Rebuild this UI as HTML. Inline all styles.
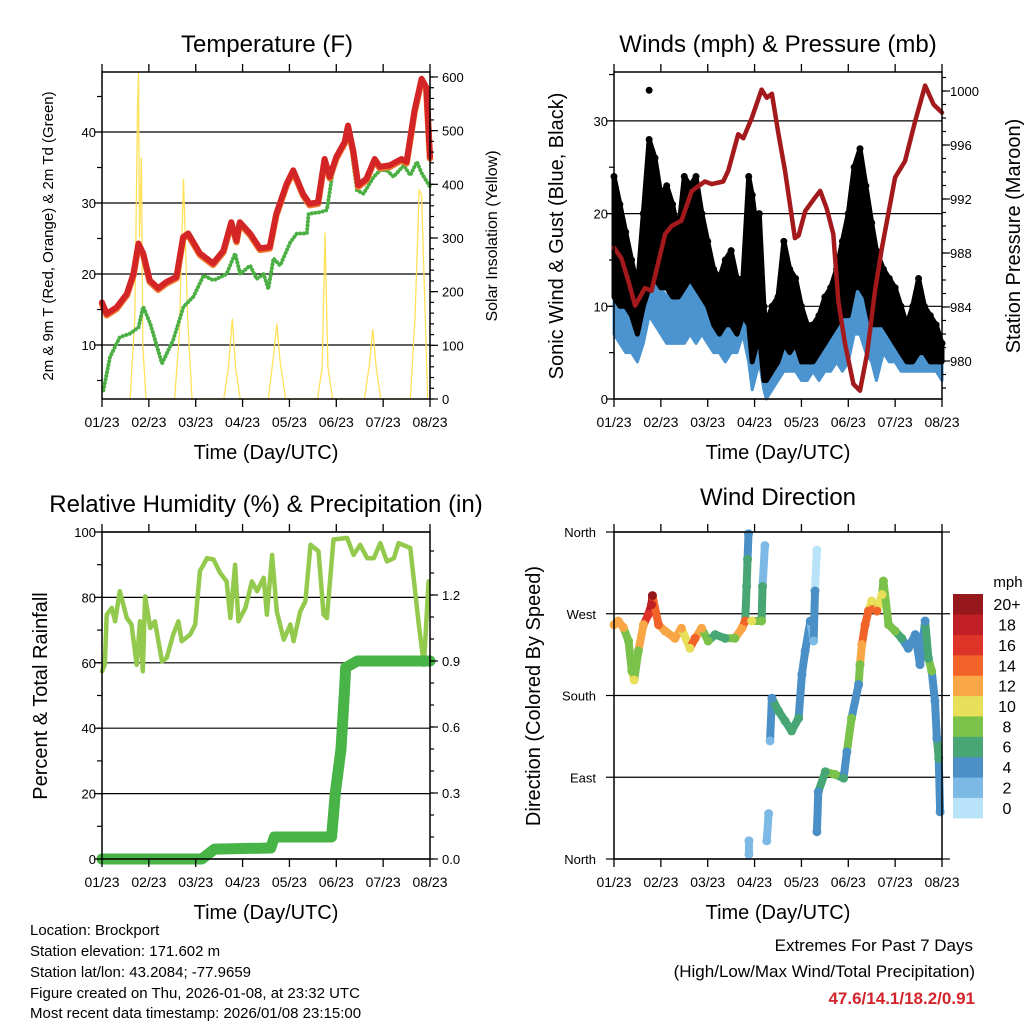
<!DOCTYPE html>
<html><head><meta charset="utf-8"><title>Brockport station meteogram</title>
<style>
html,body{margin:0;padding:0;background:#fff;}
svg{display:block;font-family:"Liberation Sans",Arial,sans-serif;}
</style></head>
<body>
<svg id="fig" xmlns="http://www.w3.org/2000/svg" width="1024" height="1024" viewBox="0 0 1024 1024">
<rect x="0" y="0" width="1024" height="1024" fill="#fff"/>
<g id="layer"></g>
<g font-size="15" fill="#000">
<text x="30" y="935">Location: Brockport</text>
<text x="30" y="956">Station elevation: 171.602 m</text>
<text x="30" y="977">Station lat/lon: 43.2084; -77.9659</text>
<text x="30" y="998">Figure created on Thu, 2026-01-08, at 23:32 UTC</text>
<text x="30" y="1018">Most recent data timestamp: 2026/01/08 23:15:00</text>
</g>
<g text-anchor="end">
<text x="973" y="951" font-size="17">Extremes For Past 7 Days</text>
<text x="975" y="977" font-size="17">(High/Low/Max Wind/Total Precipitation)</text>
<text x="975" y="1004" font-size="17" font-weight="bold" fill="#d3242b">47.6/14.1/18.2/0.91</text>
</g>
</svg>
<script>
// ---------- data ----------
const dayLabels = ["01/23","02/23","03/23","04/23","05/23","06/23","07/23","08/23"];
const tempT = [0,0.1,0.31,0.53,0.67,0.78,0.88,1.02,1.2,1.38,1.59,1.73,1.84,2.09,2.37,2.59,2.76,2.87,2.94,3.16,3.37,3.58,3.72,3.94,4.08,4.29,4.43,4.61,4.75,4.86,5.0,5.18,5.25,5.36,5.47,5.64,5.82,5.93,6.14,6.39,6.5,6.67,6.82,6.92,7.0];
const tempV = [16.0,14.4,15.3,17.2,20,24.3,22.9,19.1,18,18.9,19.6,25.2,25.7,22.9,21.5,23.3,27.3,24.7,27.3,25.7,23.6,23.8,28.5,32.7,34.6,31.3,29.9,30.1,36.2,33.7,36.5,38.6,40.9,37.4,32.5,33.4,36.2,35.1,35.3,36.2,35.8,43,47.5,46.3,36.5];
const dewT = [0.03,0.17,0.38,0.6,0.78,0.88,1.03,1.28,1.52,1.74,1.95,2.17,2.38,2.66,2.84,2.95,3.16,3.3,3.45,3.55,3.66,3.8,4.02,4.16,4.37,4.41,4.66,4.8,4.94,5.12,5.26,5.44,5.58,5.8,5.94,6.08,6.22,6.44,6.58,6.72,6.83,7.0];
const dewV = [3.6,8.3,11.1,11.6,12.5,15.4,13,7.4,10.7,15.4,16.8,19.8,19.1,20,22.9,20,21.2,19.3,20,17.9,22.2,21.2,24.5,25.7,25.7,28.5,28.7,29,35.1,37.4,40.5,31.8,31.3,33.7,34.6,34.6,33.7,35.3,33.9,35.8,34.1,32.3];
const solarT = [0.6,0.7,0.76,0.78,0.8,0.84,0.87,0.94,1.55,1.65,1.74,1.83,1.92,2.6,2.7,2.78,2.85,2.95,3.55,3.66,3.73,3.8,3.92,4.6,4.7,4.76,4.82,4.92,5.6,5.7,5.78,5.85,5.95,6.58,6.68,6.77,6.82,6.9,6.95];
const solarV = [0,150,550,610,300,450,100,0,0,120,410,150,0,0,60,150,60,0,0,80,140,70,0,0,60,310,60,0,0,60,130,60,0,0,150,390,380,150,0];
const tempTicks = [10,20,30,40];
const solarTicks = [0,100,200,300,400,500,600];

const windT = [0,0.125,0.25,0.375,0.5,0.625,0.75,0.875,1.0,1.125,1.25,1.375,1.5,1.625,1.75,1.875,2.0,2.125,2.25,2.375,2.5,2.625,2.75,2.875,2.95,3.0,3.1,3.2,3.25,3.375,3.5,3.625,3.75,3.875,4.0,4.125,4.25,4.375,4.5,4.625,4.75,4.875,5.0,5.125,5.25,5.375,5.5,5.6,5.75,5.875,6.0,6.125,6.25,6.375,6.5,6.625,6.75,6.875,7.0];
const sustLo = [7,6,5,5,4,6,9,8,7,6,6,6,6,7,6,7,6,5,5,4,5,5,7,4,1,2,4,1,0,1,2,3,3,3,2,2,3,2,3,3,4,3,4,7,7,5,4,2,5,4,4,3,3,3,3,3,3,3,2];
const sustHi = [14,12,11,9,8,12,18,15,12,11,13,11,13,14,12,10,11,9,10,8,9,8,11,14,10,11,14,6,4,5,6,8,8,7,6,5,6,5,7,8,9,8,10,15,16,14,12,9,10,9,8,7,6,7,8,7,7,6,5];
const gustLo = [11,10,10,9,7,10,12,13,12,12,11,11,12,13,12,11,10,8,7,8,8,7,9,8,4,5,7,2,2,3,4,6,5,6,4,4,4,5,6,7,8,9,9,12,12,11,8,8,8,7,6,5,4,4,5,5,4,4,4];
const gustHi = [24,21,18,15,12,20,28,26,22,23,21,18,24,23,24,20,17,14,13,15,16,13,13,24,22,20,20,10,8,10,11,17,14,13,10,8,8,9,11,12,14,17,20,25,27,23,19,16,14,13,12,10,8,10,13,10,9,8,6];
const gustOutT = [0.75];
const gustOutV = [33.3];
const presT = [0,0.16,0.31,0.45,0.66,0.8,1.09,1.23,1.44,1.66,1.94,2.09,2.33,2.44,2.65,2.76,2.94,3.15,3.26,3.37,3.51,3.65,3.86,3.94,4.08,4.29,4.4,4.54,4.68,4.79,4.93,5.11,5.25,5.4,5.57,5.72,6.0,6.21,6.43,6.64,6.82,7.0];
const presV = [988.4,987.6,985.9,984.1,985.4,985.2,989.4,990,990.4,992.6,993.3,993.1,993.3,994.1,996.8,996.5,998,1000.1,999.5,999.8,996.8,994.1,989.1,989.3,991.1,992.1,992.6,991.3,989.4,984.4,981.3,978.3,977.8,980.5,985.2,988.4,993.6,994.8,997.8,1000.4,999,998.4];
const windTicks = [0,10,20,30];
const presTicks = [980,984,988,992,996,1000];

const rhT = [0,0.06,0.1,0.21,0.28,0.38,0.53,0.63,0.74,0.81,0.87,0.92,1.03,1.13,1.28,1.38,1.52,1.63,1.7,1.88,1.99,2.09,2.24,2.38,2.52,2.66,2.74,2.84,2.91,3.06,3.2,3.31,3.45,3.52,3.63,3.73,3.88,4.02,4.09,4.23,4.34,4.45,4.62,4.73,4.8,4.94,5.23,5.37,5.51,5.66,5.8,5.94,6.08,6.23,6.33,6.58,6.76,6.87,6.97];
const rhV = [57.4,59.4,74.7,76.8,72.7,81.9,73.7,71.7,59.4,72.7,57.4,80.3,70.6,72.7,60.4,61.5,68.6,72.7,66.6,68.6,71.7,88,92,91.6,87.5,84.9,73.7,90,72.7,76.8,84.9,81.9,86,74.7,93,75.7,67.1,71.7,66.6,75.7,78.8,96.1,94.1,74.7,73.7,97.7,98.2,93,96.1,92,92,96.6,91,92,96.6,95.1,71.7,59.4,84.9];
const precT = [0,2.13,2.4,3.6,3.68,4.9,4.98,5.1,5.17,5.2,5.45,7.0];
const precV = [0,0,0.045,0.05,0.1,0.1,0.3,0.5,0.75,0.87,0.9,0.9];
const rhTicks = [0,20,40,60,80,100];
const precTicks = [0.0,0.3,0.6,0.9,1.2];
const precTickLabels = ["0.0","0.3","0.6","0.9","1.2"];

const dirT = [0,0.09,0.2,0.31,0.38,0.43,0.52,0.63,0.73,0.8,0.82,0.95,1.09,1.3,1.44,1.62,1.73,1.87,2.01,2.16,2.37,2.58,2.73,2.8,2.83,2.85,2.87,2.88,2.88,2.94,3.15,3.17,3.22,3.26,3.3,3.33,3.37,3.51,3.65,3.79,3.94,4.01,4.08,4.19,4.26,4.29,4.33,4.33,4.36,4.51,4.72,4.9,4.97,5.07,5.22,5.25,5.29,5.36,5.43,5.5,5.61,5.72,5.75,5.86,6.0,6.14,6.28,6.43,6.53,6.64,6.71,6.78,6.85,6.89,6.93,6.96];
const dirV = [258,262,255,240,207,197,229,258,269,280,290,258,251,243,254,232,243,254,240,247,243,243,254,262,300,330,358,20,5,262,262,300,345,20,50,130,177,163,152,141,155,203,229,262,240,295,340,30,74,96,93,89,118,155,192,214,236,258,273,284,273,291,306,258,251,243,232,247,214,262,221,207,174,133,111,52];
const dirSpd = [12,12,12,8,8,10,7,12,16,18,20,14,12,12,12,10,14,12,8,6,6,7,12,14,6,5,4,2,2,10,8,6,2,2,2,2,4,6,6,6,6,4,4,4,2,4,0,3,4,6,7,6,4,7,4,8,12,14,14,10,14,10,8,7,7,6,4,4,3,4,5,7,4,4,5,4];
const dirTicks = [0,90,180,270,360];
const dirTickLabels = ["North","East","South","West","North"];
const cbarLabels = ["0","2","4","6","8","10","12","14","16","18","20+"];
const cbarColors = ["#b9e3f8","#7db9e5","#4a90c6","#47a674","#7bc24b","#e8df5a","#f8a646","#f26329","#de3327","#c01f26","#97181c"];

// ---------- helpers ----------
const NS = "http://www.w3.org/2000/svg";
const layer = document.getElementById("layer");
function mk(tag, attrs, parent){
  const e = document.createElementNS(NS, tag);
  for (const k in attrs) e.setAttribute(k, attrs[k]);
  (parent||layer).appendChild(e);
  return e;
}
function txt(x,y,s,size,anchor,parent,rot){
  const e = mk("text",{x:x,y:y,"font-size":size,"text-anchor":anchor||"middle",fill:"#000"},parent);
  if (rot) e.setAttribute("transform","rotate(-90 "+x+" "+y+")");
  e.textContent = s;
  return e;
}
function pathD(ts, vs, xf, yf){
  let d="";
  for (let i=0;i<ts.length;i++) d += (i?"L":"M")+xf(ts[i]).toFixed(1)+","+yf(vs[i]).toFixed(1);
  return d;
}
function bandD(ts, lo, hi, xf, yf){
  let d="";
  for (let i=0;i<ts.length;i++) d += (i?"L":"M")+xf(ts[i]).toFixed(1)+","+yf(hi[i]).toFixed(1);
  for (let i=ts.length-1;i>=0;i--) d += "L"+xf(ts[i]).toFixed(1)+","+yf(lo[i]).toFixed(1);
  return d+"Z";
}
function speedColor(s){ let i=Math.round(s/2); if(i<0)i=0; if(i>10)i=10; return cbarColors[i]; }

const W = 328, DAY = W/7;
function makeX(left){ return t => left + t*DAY; }
function xAxis(g,left,bottom,top){
  for (let k=0;k<dayLabels.length;k++){
    const x = left + k*DAY;
    const t1 = mk("line",{x1:x,y1:bottom,x2:x,y2:bottom+8,stroke:"#000","stroke-width":1.3},g);
    
    
    const t2 = mk("line",{x1:x,y1:top,x2:x,y2:top-8,stroke:"#000","stroke-width":1.3},g);
    
    
    const l = txt(x,bottom+28,dayLabels[k],14,"middle",g);
    
    
  }
  const xt = txt(left+W/2,bottom+60,"Time (Day/UTC)",20,"middle",g);
  
  
}
function yTicks(g,x,vals,yf,side,len){
  for (const v of vals){
    const y=yf(v);
    const tk = mk("line",{x1:x,y1:y,x2:x+(side==="left"?-len:len),y2:y,stroke:"#000","stroke-width":1.2},g);
    
    
  }
}
function grid(g,left,vals,yf){
  for (const v of vals){
    const y=yf(v);
    const gl = mk("line",{x1:left,y1:y,x2:left+W,y2:y,stroke:"#000","stroke-width":1.2},g);
    
    
  }
}
function frame(g,left,top,bottom){
  const r = mk("rect",{x:left,y:top,width:W,height:bottom-top,fill:"none",stroke:"#000","stroke-width":1.5},g);
  
  
}
function range(a,b,s){ const r=[]; for(let v=a; v<=b+1e-9; v+=s) r.push(+v.toFixed(4)); return r; }

// ---------- Panel A: Temperature ----------
(function(){
  const g = mk("g",{});
  
  
  const L=102, T=72, B=399;
  const x = makeX(L);
  const yT = v => 345 - (v-10)*7.1;
  const yS = v => 399 - v*0.5367;
  grid(g,L,tempTicks,yT);
  const sol = mk("path",{d:pathD(solarT,solarV,x,yS),fill:"none",stroke:"#ffe15a","stroke-width":1.3},g);
  
  
  const dew = mk("path",{d:pathD(dewT,dewV,x,yT),fill:"none",stroke:"#4caf44","stroke-width":4,"stroke-dasharray":"0.1 3.6","stroke-linecap":"round","stroke-linejoin":"round"},g);
  
  
  const t9 = mk("path",{d:pathD(tempT,tempV,x,v=>yT(v)+1.5),fill:"none",stroke:"#f0782e","stroke-width":6.5,"stroke-linejoin":"round","stroke-linecap":"round"},g);
  
  
  const t2 = mk("path",{d:pathD(tempT,tempV,x,yT),fill:"none",stroke:"#d42526","stroke-width":6,"stroke-linejoin":"round","stroke-linecap":"round"},g);
  
  
  frame(g,L,T,B);
  yTicks(g,L,range(5,45,5),yT,"left",5);
  yTicks(g,L,tempTicks,yT,"left",8);
  yTicks(g,L+W,range(0,600,20),yS,"right",4);
  yTicks(g,L+W,solarTicks,yS,"right",8);
  for (const v of tempTicks){ const l=txt(L-6,yT(v)+5,String(v),13,"end",g);   }
  for (const v of solarTicks){ const l=txt(L+W+12,yS(v)+5,String(v),13,"start",g);   }
  xAxis(g,L,B,T);
  const ti = txt(267,52,"Temperature (F)",24,"middle",g);
   
  const yl = txt(53,236,"2m & 9m T (Red, Orange) & 2m Td (Green)",15,"middle",g,true);
   
  const y2 = txt(497,236,"Solar Insolation (Yellow)",16,"middle",g,true);
   
})();

// ---------- Panel B: Winds & Pressure ----------
(function(){
  const g = mk("g",{});
  
  
  const L=614, T=72, B=399;
  const x = makeX(L);
  const yW = v => 399 - v*9.27;
  const yP = v => 361 - (v-980)*13.5;
  grid(g,L,windTicks,yW);
  const sb = mk("path",{d:bandD(windT,sustLo,sustHi,x,yW),fill:"#4b94cf",stroke:"#4b94cf","stroke-width":3,"stroke-linejoin":"round"},g);
  
  
  const gb = mk("path",{d:bandD(windT,gustLo,gustHi,x,yW),fill:"#000",stroke:"#000","stroke-width":5,"stroke-linejoin":"round"},g);
  
  
  for (let i=0;i<windT.length;i++){
    const c = mk("circle",{cx:x(windT[i]),cy:yW(gustHi[i]),r:3.5,fill:"#000"},g);
    
    
  }
  for (let i=0;i<gustOutT.length;i++){
    const c = mk("circle",{cx:x(gustOutT[i]),cy:yW(gustOutV[i]),r:3.5,fill:"#000"},g);
    
    
  }
  const pl = mk("path",{d:pathD(presT,presV,x,yP),fill:"none",stroke:"#a3191c","stroke-width":4.5,"stroke-linejoin":"round","stroke-linecap":"round"},g);
  
  
  frame(g,L,T,B);
  yTicks(g,L,range(0,35,5),yW,"left",5);
  yTicks(g,L,windTicks,yW,"left",8);
  yTicks(g,L+W,range(978,1001,1),yP,"right",4);
  yTicks(g,L+W,presTicks,yP,"right",8);
  for (const v of windTicks){ const l=txt(L-6,yW(v)+5,String(v),13,"end",g);   }
  for (const v of presTicks){ const l=txt(L+W+8,yP(v)+5,String(v),13,"start",g);   }
  xAxis(g,L,B,T);
  const ti = txt(778,52,"Winds (mph) & Pressure (mb)",24,"middle",g);
   
  const yl = txt(563,236,"Sonic Wind & Gust (Blue, Black)",20,"middle",g,true);
   
  const y2 = txt(1020,236,"Station Pressure (Maroon)",20,"middle",g,true);
   
})();

// ---------- Panel C: RH & Precip ----------
(function(){
  const g = mk("g",{});
  
  
  const L=102, T=532, B=859;
  const x = makeX(L);
  const yR = v => 859 - v*3.27;
  const yPr = v => 859 - v*220;
  grid(g,L,rhTicks,yR);
  const rh = mk("path",{d:pathD(rhT,rhV,x,yR),fill:"none",stroke:"#93ca4e","stroke-width":4.5,"stroke-linejoin":"round","stroke-linecap":"round"},g);
  
  
  const pr = mk("path",{d:pathD(precT,precV,x,yPr),fill:"none",stroke:"#48b447","stroke-width":11,"stroke-linejoin":"round","stroke-linecap":"round"},g);
  
  
  frame(g,L,T,B);
  yTicks(g,L,range(0,100,10),yR,"left",5);
  yTicks(g,L,rhTicks,yR,"left",8);
  yTicks(g,L+W,range(0,1.4,0.1),yPr,"right",4);
  yTicks(g,L+W,precTicks,yPr,"right",8);
  for (const v of rhTicks){ const l=txt(L-6,yR(v)+5,String(v),13,"end",g);   }
  for (let i=0;i<precTicks.length;i++){ const l=txt(L+W+12,yPr(precTicks[i])+5,precTickLabels[i],13,"start",g);   }
  xAxis(g,L,B,T);
  const ti = txt(266,512,"Relative Humidity (%) & Precipitation (in)",24,"middle",g);
   
  const yl = txt(47,696,"Percent & Total Rainfall",20,"middle",g,true);
   
})();

// ---------- Panel D: Wind Direction ----------
(function(){
  const g = mk("g",{});
  
  
  const L=614, T=532, B=859;
  const x = makeX(L);
  const yD = v => 859 - v*(327/360);
  grid(g,L,dirTicks,yD);
  for (let i=1;i<dirT.length;i++){
    if (Math.abs(dirV[i]-dirV[i-1])<60 && dirT[i]-dirT[i-1]<0.3){
      const s = mk("line",{x1:x(dirT[i-1]),y1:yD(dirV[i-1]),x2:x(dirT[i]),y2:yD(dirV[i]),stroke:speedColor(dirSpd[i]),"stroke-width":8,"stroke-linecap":"round"},g);
      
      
    }
  }
  for (let i=0;i<dirT.length;i++){
    const c = mk("circle",{cx:x(dirT[i]),cy:yD(dirV[i]),r:4.5,fill:speedColor(dirSpd[i])},g);
    
    
  }
  frame(g,L,T,B);
  yTicks(g,L,dirTicks,yD,"left",8);
  yTicks(g,L+W,dirTicks,yD,"right",8);
  for (let i=0;i<dirTicks.length;i++){ const l=txt(L-18,yD(dirTicks[i])+5,dirTickLabels[i],13,"end",g);   }
  xAxis(g,L,B,T);
  const ti = txt(778,505,"Wind Direction",24,"middle",g);
   
  const yl = txt(540,696,"Direction (Colored By Speed)",20,"middle",g,true);
   
  const cb = mk("g",{},g);
  
  
  const boxH = (818-594)/cbarColors.length;
  for (let i=0;i<cbarColors.length;i++){
    const y = 818 - (i+1)*boxH;
    const r = mk("rect",{x:953,y:y,width:30,height:boxH+0.3,fill:cbarColors[i]},cb);
    
    
    const l = txt(1007,y+boxH/2+6,cbarLabels[i],16,"middle",cb);
    
    
  }
  const u = txt(1008,587,"mph",15,"middle",cb);
  
  
})();
</script>
</body></html>
